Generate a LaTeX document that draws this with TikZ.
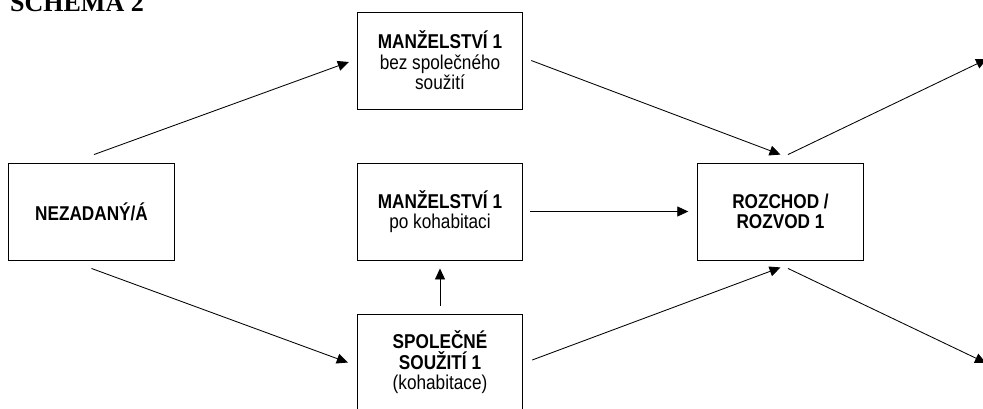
\documentclass[tikz,border=0pt]{standalone}
\usepackage{fontspec}
\setmainfont{Liberation Serif}
\newfontfamily\boxfont[FakeStretch=0.86]{Liberation Sans}
\usetikzlibrary{arrows.meta,calc}
\tikzset{
  stage/.style={draw, line width=0.9pt, minimum width=165.5pt, minimum height=97pt,
    inner sep=0pt, align=center, font=\boxfont\fontsize{20}{20.5}\selectfont},
  arr/.style={-{Triangle[length=11pt,width=10pt]}, line width=0.85pt},
}
\begin{document}
\begin{tikzpicture}[x=1pt,y=-1pt]
\useasboundingbox (0,0) rectangle (983,408);
\clip (0,0) rectangle (983,408);
\node[anchor=base west, inner sep=0pt, font=\bfseries\fontsize{26}{28}\selectfont] (title) at (10,11) {SCHEMA 2};
\node[stage] (nez) at (91.5,211.5) {\bfseries NEZADANÝ/Á};
\node[stage] (top) at (440,60.5) {{\bfseries MANŽELSTVÍ 1}\\bez společného\\soužití};
\node[stage] (mid) at (440,211.5) {{\bfseries MANŽELSTVÍ 1}\\po kohabitaci};
\node[stage] (bot) at (440,362.5) {{\bfseries SPOLEČNÉ}\\{\bfseries SOUŽITÍ 1}\\(kohabitace)};
\node[stage] (roz) at (780.5,211.5) {\bfseries ROZCHOD /\\\bfseries ROZVOD 1};
\coordinate (o1) at (987,59);
\coordinate (o2) at (986,363);
\draw[arr] ([shift={(2.5pt,8pt)}]nez.north) -- ([shift={(-8pt,-1.5pt)}]top.west);
\draw[arr] ([yshift=-8pt]nez.south) -- ([xshift=-9pt]bot.west);
\draw[arr] ([xshift=8pt]top.east) -- ([yshift=8pt]roz.north);
\draw[arr] ([xshift=7pt]mid.east) -- ([xshift=-9pt]roz.west);
\draw[arr] ([yshift=8pt]bot.north) -- ([yshift=-8pt]mid.south);
\draw[arr] ([shift={(9pt,2.5pt)}]bot.east) -- ([yshift=-7pt]roz.south);
\draw[arr] ([shift={(7.5pt,8pt)}]roz.north) -- (o1);
\draw[arr] ([shift={(7.5pt,-8pt)}]roz.south) -- (o2);
\end{tikzpicture}
\end{document}
